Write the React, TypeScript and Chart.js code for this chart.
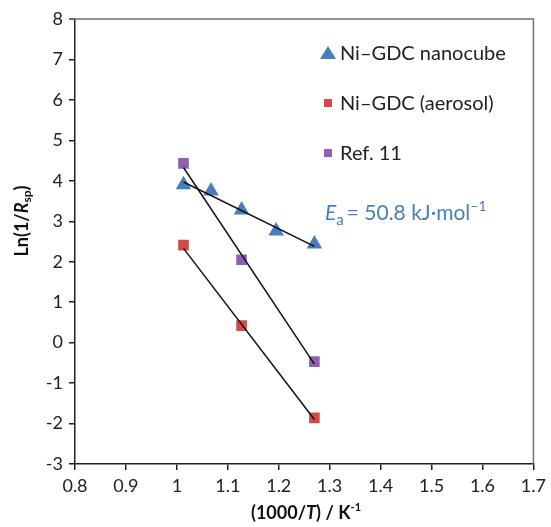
import React, { useEffect, useRef } from "react";
import { Chart, registerables } from "chart.js";

Chart.register(...registerables);

const nanocubeX = [1.013, 1.067, 1.127, 1.195, 1.27];
const nanocubeY = [3.9, 3.75, 3.28, 2.76, 2.44];
const aerosolX = [1.013, 1.127, 1.27];
const aerosolY = [2.41, 0.42, -1.86];
const refX = [1.013, 1.127, 1.27];
const refY = [4.43, 2.05, -0.47];

const fitNanoX = [1.013, 1.27];
const fitNanoY = [3.97, 2.38];
const fitAeroX = [1.013, 1.27];
const fitAeroY = [2.33, -1.9];
const fitRefX = [1.013, 1.27];
const fitRefY = [4.33, -0.53];

const legendLabels = ["Ni\u2013GDC nanocube", "Ni\u2013GDC (aerosol)", "Ref. 11"];
const eaLabel = "50.8 kJ\u00b7mol";

const BLUE = "#4a7ebb";
const RED = "#d04a48";
const PURPLE = "#8c62ad";
const FONT = "Lato, 'Open Sans', sans-serif";

const pts = (xs: number[], ys: number[]) => xs.map((x, i) => ({ x, y: ys[i] }));

const decorPlugin = {
  id: "decor",
  afterDraw(chart: any) {
    const ctx = chart.ctx;
    const a = chart.chartArea;
    ctx.save();
    // frame
    ctx.strokeStyle = "#707070";
    ctx.lineWidth = 1.5;
    ctx.beginPath();
    ctx.moveTo(a.left - 6, a.top);
    ctx.lineTo(a.right, a.top);
    ctx.lineTo(a.right, a.bottom);
    ctx.stroke();

    // legend
    ctx.textBaseline = "middle";
    ctx.textAlign = "left";
    ctx.font = `20px ${FONT}`;
    const lx = 328;
    const rows = [53, 103, 153];
    // triangle
    ctx.fillStyle = BLUE;
    ctx.beginPath();
    ctx.moveTo(lx, rows[0] - 7);
    ctx.lineTo(lx + 8, rows[0] + 6);
    ctx.lineTo(lx - 8, rows[0] + 6);
    ctx.closePath();
    ctx.fill();
    ctx.fillStyle = RED;
    ctx.fillRect(lx - 4, rows[1] - 4, 8, 8);
    ctx.fillStyle = PURPLE;
    ctx.fillRect(lx - 4, rows[2] - 4, 8, 8);
    ctx.fillStyle = "#222";
    legendLabels.forEach((t, i) => ctx.fillText(t, lx + 12, rows[i] + 1));

    // Ea label
    ctx.fillStyle = BLUE;
    let x = 325;
    const y = 213;
    ctx.font = `italic 21px ${FONT}`;
    ctx.fillText("E", x, y);
    x += ctx.measureText("E").width;
    ctx.font = `15px ${FONT}`;
    ctx.fillText("a", x, y + 7);
    x += ctx.measureText("a").width + 3;
    ctx.font = `21px ${FONT}`;
    const main = "= " + eaLabel;
    ctx.fillText(main, x, y);
    x += ctx.measureText(main).width;
    ctx.font = `14px ${FONT}`;
    ctx.fillText("\u22121", x, y - 7);

    // y title
    ctx.fillStyle = "#111";
    ctx.save();
    ctx.translate(22, 221);
    ctx.rotate(-Math.PI / 2);
    const parts: [string, string, number][] = [
      ["Ln(1/", `bold 18px ${FONT}`, 0],
      ["R", `italic bold 18px ${FONT}`, 0],
      ["sp", `bold 12px ${FONT}`, 5],
      [")", `bold 18px ${FONT}`, 0],
    ];
    let w = 0;
    parts.forEach((p) => {
      ctx.font = p[1];
      w += ctx.measureText(p[0]).width;
    });
    let cx = -w / 2;
    parts.forEach((p) => {
      ctx.font = p[1];
      ctx.fillText(p[0], cx, p[2]);
      cx += ctx.measureText(p[0]).width;
    });
    ctx.restore();

    // x title
    const xparts: [string, string, number][] = [
      ["(1000/", `bold 18px ${FONT}`, 0],
      ["T", `italic bold 18px ${FONT}`, 0],
      [") / K", `bold 18px ${FONT}`, 0],
      ["-1", `bold 11px ${FONT}`, -6],
    ];
    w = 0;
    xparts.forEach((p) => {
      ctx.font = p[1];
      w += ctx.measureText(p[0]).width;
    });
    cx = 306 - w / 2;
    xparts.forEach((p) => {
      ctx.font = p[1];
      ctx.fillText(p[0], cx, 513 + p[2]);
      cx += ctx.measureText(p[0]).width;
    });
    ctx.restore();
  },
};

export default function App() {
  const ref = useRef<HTMLCanvasElement>(null);
  useEffect(() => {
    document.body.style.margin = "0";
    const line = (xs: number[], ys: number[]) => ({
      type: "line" as const,
      data: pts(xs, ys),
      borderColor: "#111",
      borderWidth: 1.5,
      pointRadius: 0,
      showLine: true,
      fill: false,
    });
    const chart = new Chart(ref.current!, {
      type: "scatter",
      data: {
        datasets: [
          line(fitNanoX, fitNanoY),
          line(fitAeroX, fitAeroY),
          line(fitRefX, fitRefY),
          {
            data: pts(nanocubeX, nanocubeY),
            pointStyle: "triangle",
            pointRadius: 9,
            backgroundColor: BLUE,
            borderColor: BLUE,
            borderWidth: 0,
          },
          {
            data: pts(aerosolX, aerosolY),
            pointStyle: "rect",
            pointRadius: 7.5,
            backgroundColor: RED,
            borderColor: RED,
            borderWidth: 0,
          },
          {
            data: pts(refX, refY),
            pointStyle: "rect",
            pointRadius: 7.5,
            backgroundColor: PURPLE,
            borderColor: PURPLE,
            borderWidth: 0,
          },
        ] as any,
      },
      options: {
        animation: false,
        responsive: false,
        layout: { padding: { left: 0, right: 16, top: 19, bottom: 0 } },
        plugins: { legend: { display: false }, tooltip: { enabled: false } },
        scales: {
          x: {
            type: "linear",
            min: 0.8,
            max: 1.7,
            ticks: {
              stepSize: 0.1,
              color: "#222",
              font: { family: FONT, size: 18 },
              padding: 5,
              callback: (v: any) => String(Math.round(Number(v) * 10) / 10),
            },
            grid: { drawOnChartArea: false, drawTicks: true, tickLength: 6, color: "#222", lineWidth: 1.5 },
            border: { display: true, color: "#222", width: 1.5 },
            afterFit: (s: any) => {
              s.height = 63;
            },
          },
          y: {
            type: "linear",
            min: -3,
            max: 8,
            ticks: {
              stepSize: 1,
              color: "#222",
              font: { family: FONT, size: 18 },
              padding: 6,
            },
            grid: { drawOnChartArea: false, drawTicks: true, tickLength: 6, color: "#222", lineWidth: 1.5 },
            border: { display: true, color: "#222", width: 1.5 },
            afterFit: (s: any) => {
              s.width = 75;
            },
          },
        },
      } as any,
      plugins: [decorPlugin],
    });
    return () => chart.destroy();
  }, []);
  return (
    <div style={{ width: 551, height: 527, background: "#fff" }}>
      <canvas ref={ref} width={551} height={527} style={{ display: "block" }} />
    </div>
  );
}
